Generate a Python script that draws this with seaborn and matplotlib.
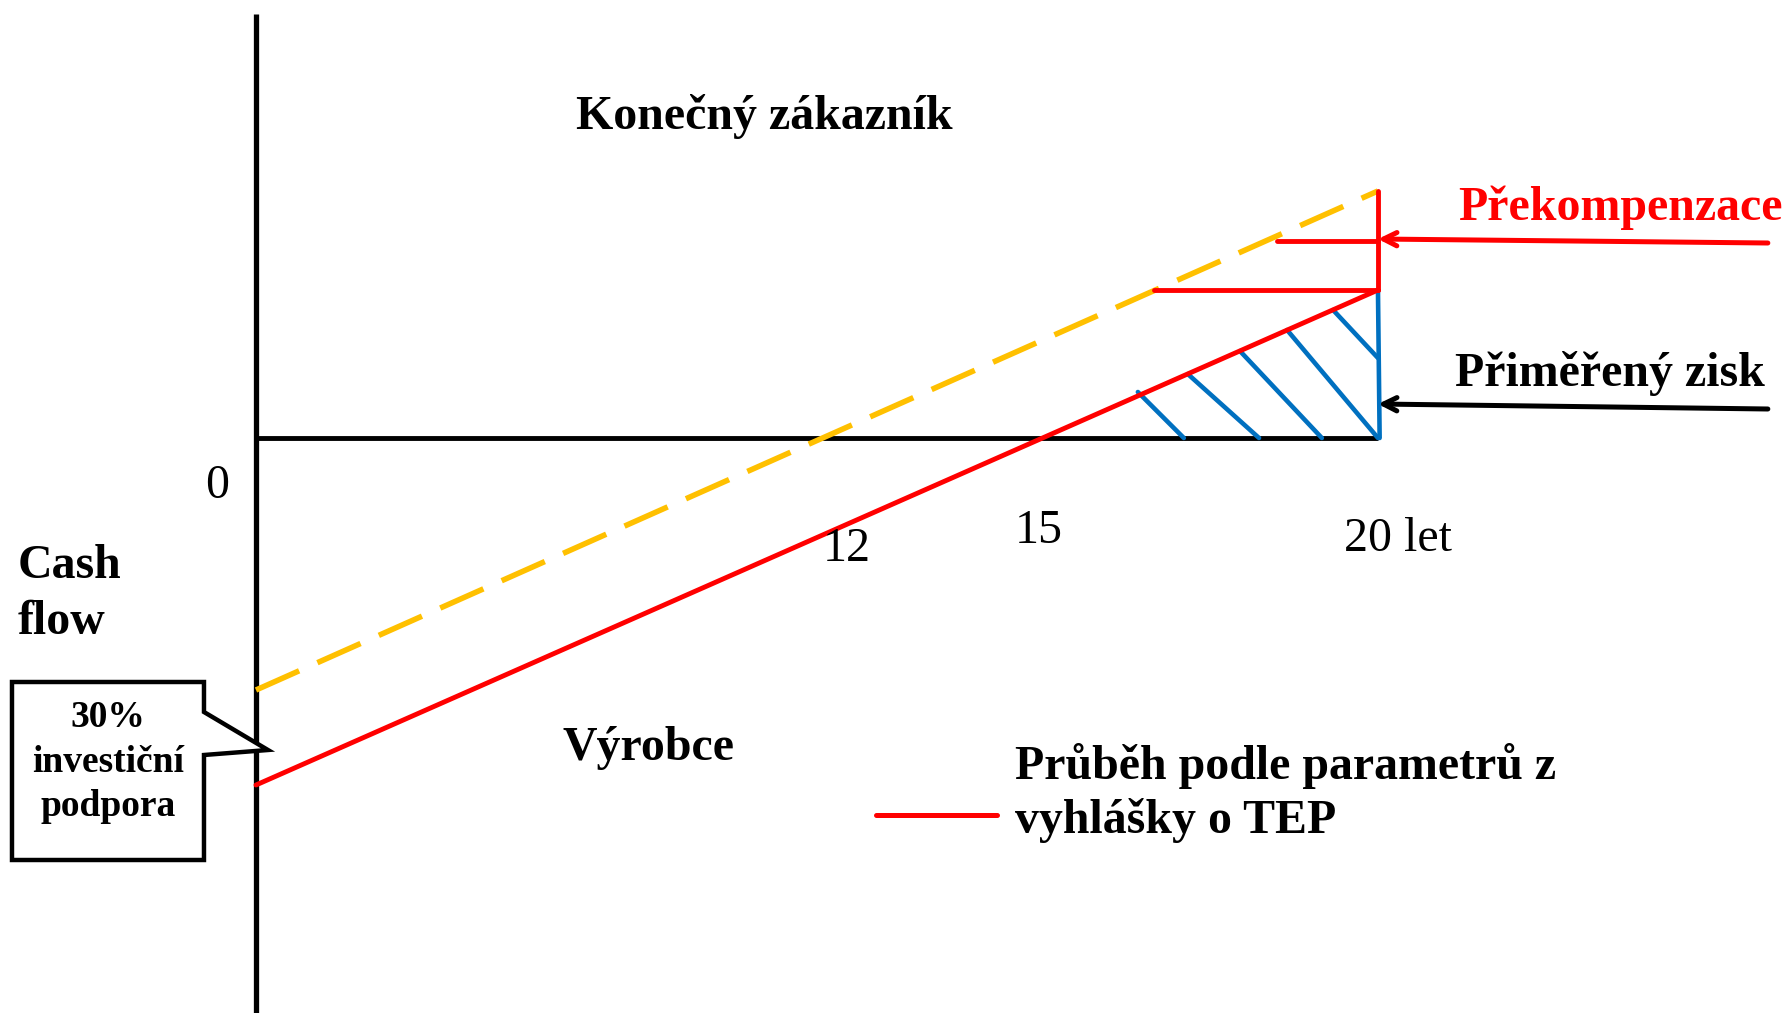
import numpy as np
import pandas as pd
import matplotlib
matplotlib.use("Agg")
import matplotlib.pyplot as plt
import matplotlib.patches as mpatches
import seaborn as sns

# --- data (years on x, cash flow in arbitrary units on y) ---
years = [0, 20]
tep_cf = [-3.47, 1.48]          # red: course per TEP decree parameters
actual_cf = [-2.52, 2.47]       # orange dashed: with 30 % investment support

# over-compensation markers (horizontal red lines to the dashed line)
over_levels = [1.97, 1.48]
over_start = [18.2, 16.0]

# hatch of "reasonable profit" (start point on red line, end point)
hatch_x0 = [15.72, 16.61, 17.54, 18.38, 19.20]
hatch_y0 = [0.46, 0.64, 0.87, 1.08, 1.28]
hatch_x1 = [16.54, 17.88, 19.00, 20.00, 20.00]
hatch_y1 = [0.00, 0.00, 0.00, 0.00, 0.80]

tick_labels = ["0", "12", "15", "20 let"]

RED = "#FF0000"
ORANGE = "#FFC000"
BLUE = "#0070C0"

sns.set_theme(style="white")
plt.rcParams['font.family'] = ['Liberation Serif', 'DejaVu Serif']
plt.rcParams['text.color'] = 'black'

fig = plt.figure(figsize=(17.83, 10.13), dpi=100)
ax = fig.add_axes([0, 0, 1, 1])
ax.set_xlim(-4.563, 27.22)
ax.set_ylim(-5.75, 4.38)
ax.axis("off")

# axes of the diagram
ax.plot([0, 0], [-5.75, 4.24], color="black", lw=3.8, solid_capstyle="butt")
ax.plot([0, 20], [0, 0], color="black", lw=3.5, solid_capstyle="butt")

# hatch
for x0, y0, x1, y1 in zip(hatch_x0, hatch_y0, hatch_x1, hatch_y1):
    sns.lineplot(x=[x0, x1], y=[y0, y1], ax=ax, color=BLUE, lw=3.3,
                 estimator=None, sort=False)
sns.lineplot(x=[20, 20.03], y=[tep_cf[1], 0], ax=ax, color=BLUE, lw=3.3,
             estimator=None, sort=False)

# main lines
sns.lineplot(x=years, y=actual_cf, ax=ax, color=ORANGE, lw=4,
             estimator=None, sort=False)
ax.lines[-1].set_dashes((8.5, 3.6))
sns.lineplot(x=years, y=tep_cf, ax=ax, color=RED, lw=3.5,
             estimator=None, sort=False)

# over-compensation
sns.lineplot(x=[20, 20], y=[tep_cf[1], actual_cf[1]], ax=ax, color=RED, lw=3.5,
             estimator=None, sort=False)
for lev, x0 in zip(over_levels, over_start):
    sns.lineplot(x=[x0, 20], y=[lev, lev], ax=ax, color=RED, lw=3.5,
                 estimator=None, sort=False)

# arrows
ax.annotate("", xy=(20.0, 1.99), xytext=(26.95, 1.95),
            arrowprops=dict(arrowstyle="->,head_length=0.8,head_width=0.4",
                            color=RED, lw=3.6, shrinkA=0, shrinkB=0))
ax.annotate("", xy=(20.0, 0.34), xytext=(26.95, 0.29),
            arrowprops=dict(arrowstyle="->,head_length=0.8,head_width=0.4",
                            color="black", lw=3.6, shrinkA=0, shrinkB=0))

# texts
big = 34.5
ax.text(9.07, 3.21, "Konečný zákazník", fontsize=big, fontweight="bold",
        ha="center", va="center")
ax.text(21.43, 2.30, "Překompenzace", fontsize=big, fontweight="bold",
        color=RED, ha="left", va="center")
ax.text(21.37, 0.65, "Přiměřený zisk", fontsize=big, fontweight="bold",
        ha="left", va="center")
ax.text(-0.70, -0.48, tick_labels[0], fontsize=big, ha="center", va="center")
ax.text(10.53, -1.11, tick_labels[1], fontsize=big, ha="center", va="center")
ax.text(13.96, -0.93, tick_labels[2], fontsize=big, ha="center", va="center")
ax.text(19.40, -1.01, tick_labels[3], fontsize=big, ha="left", va="center")
ax.text(-4.24, -1.56, "Cash\nflow", fontsize=big, fontweight="bold",
        ha="left", va="center", linespacing=1.37)
ax.text(6.99, -3.10, "Výrobce", fontsize=big, fontweight="bold",
        ha="center", va="center")

# legend-like entry
ax.plot([11.05, 13.21], [-3.77, -3.77], color=RED, lw=3.6,
        solid_capstyle="round")
ax.text(13.53, -3.55, "Průběh podle parametrů z\nvyhlášky o TEP", fontsize=big,
        fontweight="bold", ha="left", va="center", linespacing=1.23)

# callout box
def px(x, y):
    return ((x - 256) / 56.1, (438 - y) / 100)

box = [px(12, 682), px(204, 682), px(204, 712), px(268, 750), px(204, 755),
       px(204, 860), px(12, 860)]
ax.add_patch(mpatches.Polygon(box, closed=True, facecolor="white",
                              edgecolor="black", lw=3.2, joinstyle="miter",
                              zorder=5))
bx, by = px(108, 762)
ax.text(bx, by, "30%\ninvestiční\npodpora", fontsize=27, fontweight="bold",
        ha="center", va="center", linespacing=1.36, zorder=6)

fig.savefig("out.png", dpi=100)
